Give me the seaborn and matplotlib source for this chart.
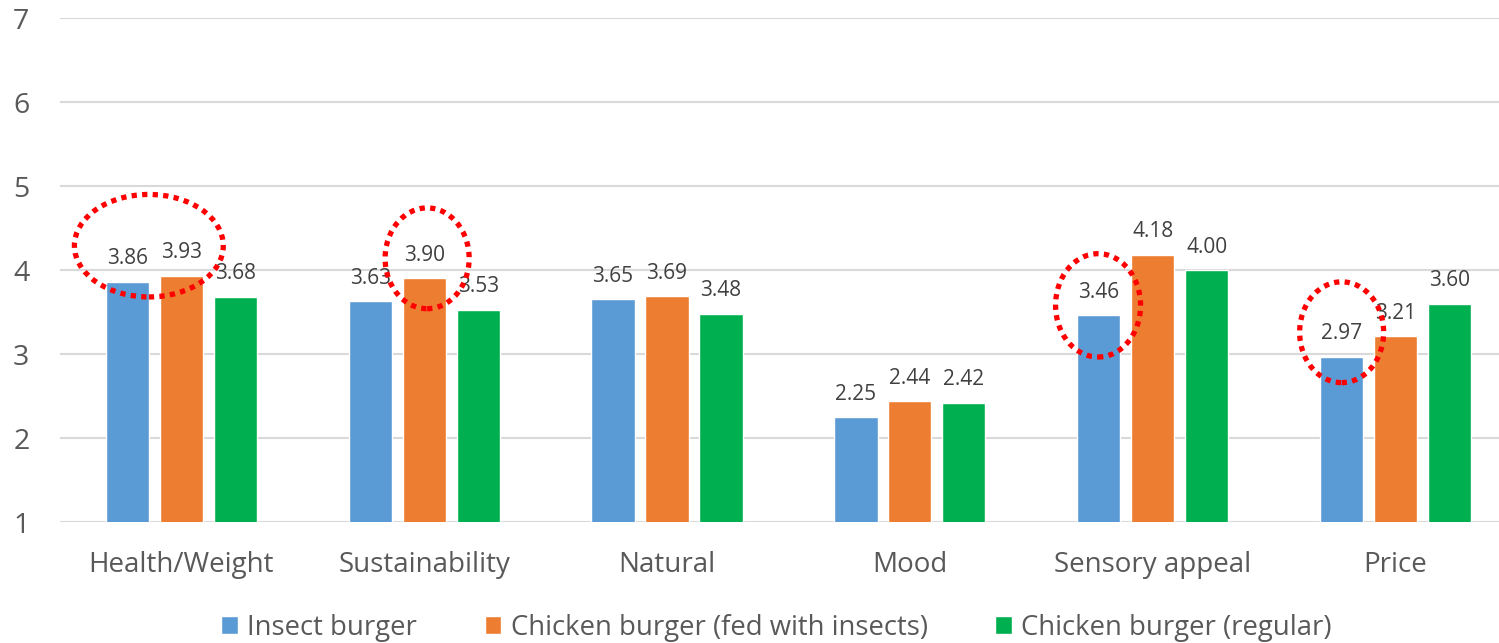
import matplotlib
matplotlib.use("Agg")
import matplotlib.pyplot as plt
from matplotlib.patches import Ellipse
import seaborn as sns
import pandas as pd

categories = ["Health/Weight", "Sustainability", "Natural", "Mood", "Sensory appeal", "Price"]
series_names = ["Insect burger", "Chicken burger (fed with insects)", "Chicken burger (regular)"]
insect_burger = [3.86, 3.63, 3.65, 2.25, 3.46, 2.97]
chicken_fed_insects = [3.93, 3.90, 3.69, 2.44, 4.18, 3.21]
chicken_regular = [3.68, 3.53, 3.48, 2.42, 4.00, 3.60]
y_ticks = [1, 2, 3, 4, 5, 6, 7]
colors = ["#5B9BD5", "#ED7D31", "#00B050"]

rows = []
for name, vals in zip(series_names, [insect_burger, chicken_fed_insects, chicken_regular]):
    for cat, v in zip(categories, vals):
        rows.append({"category": cat, "series": name, "score": v})
df = pd.DataFrame(rows)

sns.set_theme(style="white")
plt.rcParams["font.family"] = ["Open Sans", "DejaVu Sans"]

fig = plt.figure(figsize=(14.99, 6.43), dpi=100)
ax = fig.add_axes([0.040, 0.188, 0.960, 0.784])

sns.barplot(data=df, x="category", y="score", hue="series", order=categories,
            hue_order=series_names, palette=colors, width=2 / 3, gap=0.2,
            ax=ax, legend=True, errorbar=None, saturation=1)

ax.set_ylim(1, 7)
ax.set_xlim(-0.5, 5.426)
ax.set_yticks(y_ticks)
ax.yaxis.grid(True, color="#D9D9D9", linewidth=1.5)
ax.set_axisbelow(True)
for s in ["top", "right", "left", "bottom"]:
    ax.spines[s].set_visible(False)
ax.set_xlabel("")
ax.set_ylabel("")
ax.tick_params(axis="y", length=0, pad=22, labelsize=20.5, labelcolor="#595959")
ax.tick_params(axis="x", length=0, pad=21, labelsize=20, labelcolor="#595959")

# value labels above each bar
for container in ax.containers:
    ax.bar_label(container, fmt="%.2f", padding=9, fontsize=15, color="#404040")

# dotted red ellipses highlighting selected values
highlights = [(-0.134, 4.29, 0.613, 1.22),
              (1.012, 4.14, 0.346, 1.20),
              (3.775, 3.58, 0.350, 1.23),
              (4.778, 3.26, 0.346, 1.20)]
for cx, cy, w, h in highlights:
    ax.add_patch(Ellipse((cx, cy), w, h, fill=False, edgecolor="#FF0000",
                         linewidth=3.8, linestyle=(0, (1, 1.0)), zorder=5,
                         clip_on=False))

handles, labels = ax.get_legend_handles_labels()
ax.get_legend().remove()
fig.legend(handles, labels, loc="center", bbox_to_anchor=(0.518, 0.024), ncol=3,
           frameon=False, fontsize=19.8, handlelength=0.6, handleheight=0.6,
           handletextpad=0.35, columnspacing=2.45, labelcolor="#595959")

fig.savefig("out.png", dpi=100)
